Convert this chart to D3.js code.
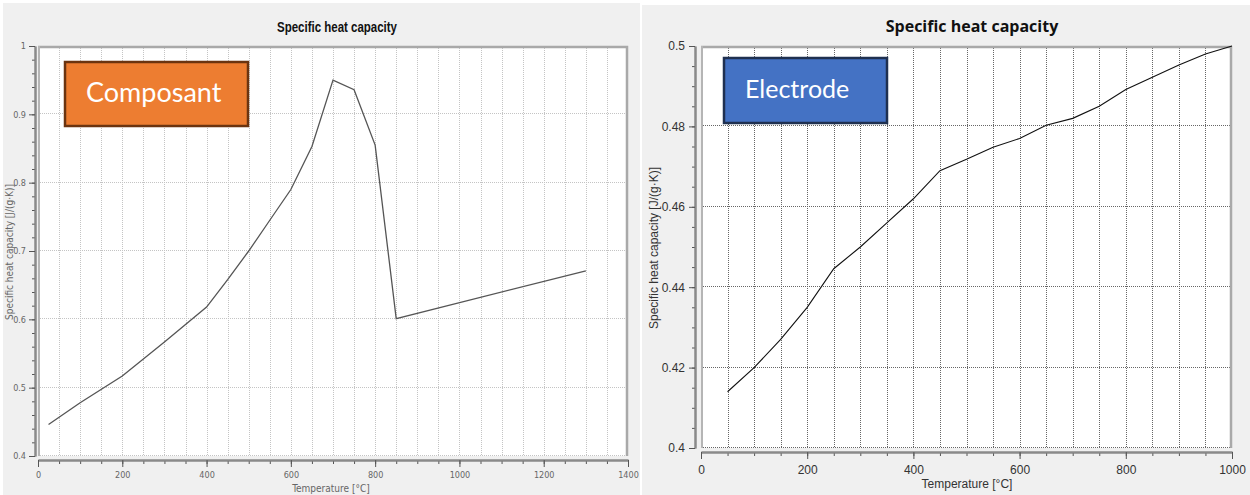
<!DOCTYPE html>
<html lang="en">
<head>
<meta charset="UTF-8">
<title>Specific heat capacity</title>
<style>
  body{ margin:0; background:#fff; }
  svg{ display:block; }
  .grid line{ shape-rendering:crispEdges; }
</style>
</head>
<body>
<svg width="1250" height="495"></svg>
<script src="https://d3js.org/d3.v7.min.js"></script>
<script>
// Composant curve (left)
var composantTemp = [25, 100, 200, 300, 400, 450, 500, 550, 600, 650, 700, 750, 800, 850, 1300];
var composantCp   = [0.446, 0.478, 0.517, 0.567, 0.618, 0.658, 0.700, 0.745, 0.790, 0.853, 0.950, 0.936, 0.855, 0.601, 0.671];
var composantXTicks = [0, 200, 400, 600, 800, 1000, 1200, 1400];
var composantYTicks = [0.4, 0.5, 0.6, 0.7, 0.8, 0.9, 1];

// Electrode curve (right)
var electrodeTemp = [50, 100, 150, 200, 250, 300, 350, 400, 450, 500, 550, 600, 650, 700, 750, 800, 850, 900, 950, 1000];
var electrodeCp   = [0.414, 0.420, 0.427, 0.435, 0.4446, 0.450, 0.456, 0.462, 0.469, 0.4718, 0.4748, 0.477, 0.4803, 0.482, 0.485, 0.4892, 0.4922, 0.4953, 0.498, 0.500];
var electrodeXTicks = [0, 200, 400, 600, 800, 1000];
var electrodeYTicks = [0.4, 0.42, 0.44, 0.46, 0.48, 0.5];

var svg = d3.select("svg");

function drawPanel(p) {
  var g = svg.append("g");

  g.append("rect")
    .attr("x", p.bg[0]).attr("y", p.bg[1])
    .attr("width", p.bg[2]).attr("height", p.bg[3])
    .attr("fill", "#f0f0f0");

  var x = d3.scaleLinear().domain(p.xDomain).range([p.left, p.right]);
  var y = d3.scaleLinear().domain(p.yDomain).range([p.bottom, p.top]);

  // plot area
  g.append("rect")
    .attr("x", p.left).attr("y", p.top)
    .attr("width", p.right - p.left).attr("height", p.bottom - p.top)
    .attr("fill", "#fff");

  var xMinor = d3.range(p.xDomain[0], p.xDomain[1] + 1, p.xMinorStep);
  var yMinor = d3.range(0, Math.round((p.yDomain[1] - p.yDomain[0]) / p.yMinorStep) + 1)
    .map(function(i) { return p.yDomain[0] + i * p.yMinorStep; });

  // grid
  var grid = g.append("g").attr("class", "grid")
    .attr("stroke", p.gridColor).attr("stroke-dasharray", p.gridDash);
  grid.selectAll("line.v")
    .data(xMinor.filter(function(d) { return d > p.xDomain[0] && d < p.xDomain[1]; }))
    .enter().append("line").attr("class", "v")
    .attr("x1", function(d) { return Math.round(x(d)) + 0.5; })
    .attr("x2", function(d) { return Math.round(x(d)) + 0.5; })
    .attr("y1", p.top).attr("y2", p.bottom);
  grid.selectAll("line.h")
    .data(p.yTicks.filter(function(d) { return d < p.yDomain[1]; }))
    .enter().append("line").attr("class", "h")
    .attr("y1", function(d) { return Math.round(y(d)) - 0.5; })
    .attr("y2", function(d) { return Math.round(y(d)) - 0.5; })
    .attr("x1", p.left).attr("x2", p.right);

  // frame: thick grey top and right
  g.append("path")
    .attr("d", "M" + p.left + "," + (p.top + 1) + "H" + (p.right - 1) + "V" + p.bottom)
    .attr("fill", "none").attr("stroke", "#a9a9a9").attr("stroke-width", 2.5);
  g.append("line")
    .attr("x1", p.left + 1).attr("x2", p.left + 1)
    .attr("y1", p.top).attr("y2", p.bottom)
    .attr("stroke", "#b5b5b5").attr("stroke-width", 2);

  // y axis
  var yAxisG = g.append("g").attr("transform", "translate(" + p.yAxisX + ",0)");
  yAxisG.append("g")
    .call(d3.axisLeft(y).tickValues(yMinor).tickSize(3).tickSizeOuter(0).tickFormat(""));
  yAxisG.append("g")
    .call(d3.axisLeft(y).tickValues(p.yTicks).tickSize(6).tickSizeOuter(0)
      .tickPadding(p.tickPad).tickFormat(d3.format("~g")));

  // x axis
  var xAxisG = g.append("g").attr("transform", "translate(0," + p.xAxisY + ")");
  xAxisG.append("g")
    .call(d3.axisBottom(x).tickValues(xMinor).tickSize(4).tickSizeOuter(0).tickFormat(""));
  xAxisG.append("g")
    .call(d3.axisBottom(x).tickValues(p.xTicks).tickSize(7).tickSizeOuter(0)
      .tickPadding(p.tickPad + 2).tickFormat(d3.format("d")));

  g.selectAll(".domain").attr("stroke", "#8a8a8a").attr("stroke-width", 2);
  g.selectAll(".tick line").attr("stroke", "#555");
  g.selectAll(".tick text")
    .attr("fill", p.labelColor)
    .style("font-family", p.font)
    .style("font-size", p.tickFont + "px");

  // curve
  var pts = p.temp.map(function(t, i) { return [t, p.cp[i]]; });
  g.append("path")
    .datum(pts)
    .attr("fill", "none")
    .attr("stroke", p.lineColor)
    .attr("stroke-width", p.lineWidth)
    .attr("d", d3.line().x(function(d) { return x(d[0]); }).y(function(d) { return y(d[1]); }));

  // titles
  var title = g.append("text")
    .attr("x", p.titlePos[0]).attr("y", p.titlePos[1])
    .attr("text-anchor", "middle")
    .style("font-family", p.titleFont)
    .style("font-size", p.titleSize + "px")
    .style("font-weight", "bold")
    .attr("fill", "#111")
    .text("Specific heat capacity");
  if (p.titleLength) {
    title.attr("textLength", p.titleLength).attr("lengthAdjust", "spacingAndGlyphs");
  }

  g.append("text")
    .attr("transform", "translate(" + p.yLabelPos[0] + "," + p.yLabelPos[1] + ") rotate(-90)")
    .attr("text-anchor", "middle")
    .style("font-family", p.font)
    .style("font-size", p.axisLabelSize + "px")
    .attr("fill", p.labelColor)
    .text("Specific heat capacity [J/(g\u00b7K)]");

  g.append("text")
    .attr("x", p.xLabelPos[0]).attr("y", p.xLabelPos[1])
    .attr("text-anchor", "middle")
    .style("font-family", p.font)
    .style("font-size", p.axisLabelSize + "px")
    .attr("fill", p.labelColor)
    .text("Temperature [\u00b0C]");

  // label box
  g.append("rect")
    .attr("x", p.box[0]).attr("y", p.box[1])
    .attr("width", p.box[2]).attr("height", p.box[3])
    .attr("fill", p.boxFill).attr("stroke", p.boxStroke).attr("stroke-width", 2.5);
  g.append("text")
    .attr("x", p.boxText[0]).attr("y", p.boxText[1])
    .style("font-family", "Lato, 'Open Sans', sans-serif")
    .style("font-size", p.boxTextSize + "px")
    .attr("fill", "#fff")
    .text(p.boxLabel);
}

drawPanel({
  bg: [3, 3, 637, 492],
  xDomain: [0, 1400], yDomain: [0.4, 1],
  left: 38, right: 628, top: 46, bottom: 456,
  yAxisX: 35, xAxisY: 460,
  xMinorStep: 50, yMinorStep: 0.02,
  xTicks: composantXTicks, yTicks: composantYTicks,
  gridColor: "#c4c4c4", gridDash: "1,1",
  font: "'Liberation Sans Narrow', 'DejaVu Sans Condensed', sans-serif",
  tickFont: 9, tickPad: 3, labelColor: "#666",
  temp: composantTemp, cp: composantCp,
  lineColor: "#555", lineWidth: 1.3,
  titlePos: [337, 32], titleFont: "'Liberation Sans', Arial, sans-serif", titleSize: 14, titleLength: 120,
  yLabelPos: [13, 252], xLabelPos: [331, 492], axisLabelSize: 10,
  box: [65, 62, 183, 64], boxFill: "#ed7d31", boxStroke: "#6b3410",
  boxText: [86, 102], boxTextSize: 27, boxLabel: "Composant"
});

drawPanel({
  bg: [642, 5, 608, 490],
  xDomain: [0, 1000], yDomain: [0.4, 0.5],
  left: 701, right: 1232, top: 46, bottom: 448,
  yAxisX: 695, xAxisY: 452,
  xMinorStep: 50, yMinorStep: 0.005,
  xTicks: electrodeXTicks, yTicks: electrodeYTicks,
  gridColor: "#666", gridDash: "1,1",
  font: "'Liberation Sans', Arial, sans-serif",
  tickFont: 12, tickPad: 4, labelColor: "#333",
  temp: electrodeTemp, cp: electrodeCp,
  lineColor: "#111", lineWidth: 1.1,
  titlePos: [972, 32], titleFont: "'Open Sans', sans-serif", titleSize: 16,
  yLabelPos: [658, 248], xLabelPos: [967, 488], axisLabelSize: 12,
  box: [724, 58, 163, 65], boxFill: "#4472c4", boxStroke: "#1f3050",
  boxText: [745, 98], boxTextSize: 25, boxLabel: "Electrode"
});
</script>
</body>
</html>
